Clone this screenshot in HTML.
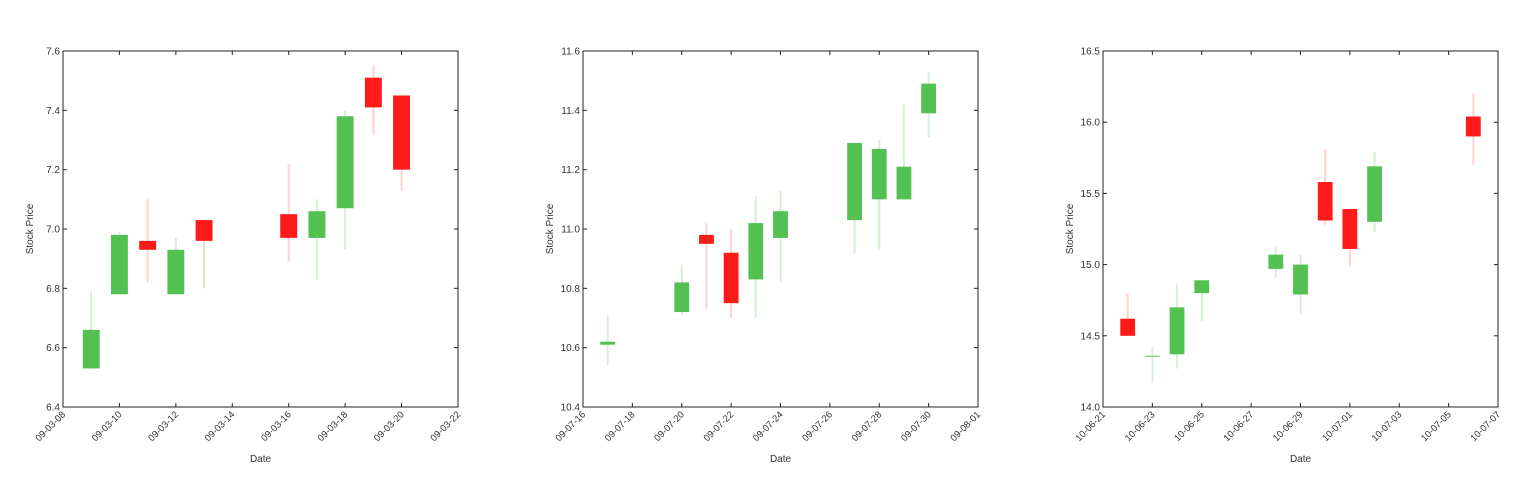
<!DOCTYPE html>
<html><head><meta charset="utf-8"><style>
html,body{margin:0;padding:0;background:#fff;width:1536px;height:488px;overflow:hidden}
svg text{font-family:"Liberation Sans",sans-serif;fill:#333}
</style></head><body>
<svg id="chart" width="1536" height="488" xmlns="http://www.w3.org/2000/svg"></svg>
<script>
// Panel 1 data (2009-03)
const p1Days = [9,10,11,12,13,16,17,18,19,20];
const p1Open = [6.53,6.78,6.96,6.78,7.03,7.05,6.97,7.07,7.51,7.45];
const p1Close = [6.66,6.98,6.93,6.93,6.96,6.97,7.06,7.38,7.41,7.20];
const p1High = [6.79,6.99,7.10,6.97,7.03,7.22,7.10,7.40,7.55,7.45];
const p1Low = [6.53,6.78,6.82,6.78,6.80,6.89,6.83,6.93,7.32,7.13];
const p1XTicks = ["09-03-08","09-03-10","09-03-12","09-03-14","09-03-16","09-03-18","09-03-20","09-03-22"];
const p1YTicks = ["6.4","6.6","6.8","7.0","7.2","7.4","7.6"];
// Panel 2 data (2009-07), day offset from 07-16
const p2Days = [1,4,5,6,7,8,11,12,13,14];
const p2Open = [10.61,10.72,10.98,10.92,10.83,10.97,11.03,11.10,11.10,11.39];
const p2Close = [10.62,10.82,10.95,10.75,11.02,11.06,11.29,11.27,11.21,11.49];
const p2High = [10.71,10.88,11.02,11.00,11.11,11.13,11.29,11.30,11.42,11.53];
const p2Low = [10.54,10.71,10.73,10.70,10.70,10.82,10.92,10.93,11.10,11.31];
const p2XTicks = ["09-07-16","09-07-18","09-07-20","09-07-22","09-07-24","09-07-26","09-07-28","09-07-30","09-08-01"];
const p2YTicks = ["10.4","10.6","10.8","11.0","11.2","11.4","11.6"];
// Panel 3 data (2010-06/07), day offset from 06-21
const p3Days = [1,2,3,4,7,8,9,10,11,15];
const p3Open = [14.62,14.36,14.37,14.80,14.97,14.79,15.58,15.39,15.30,16.04];
const p3Close = [14.50,14.36,14.70,14.89,15.07,15.00,15.31,15.11,15.69,15.90];
const p3High = [14.80,14.42,14.86,14.89,15.13,15.07,15.81,15.39,15.79,16.20];
const p3Low = [14.50,14.17,14.27,14.60,14.91,14.65,15.28,14.99,15.23,15.70];
const p3XTicks = ["10-06-21","10-06-23","10-06-25","10-06-27","10-06-29","10-07-01","10-07-03","10-07-05","10-07-07"];
const p3YTicks = ["14.0","14.5","15.0","15.5","16.0","16.5"];

const NS="http://www.w3.org/2000/svg";
const svg=document.getElementById('chart');
function mk(tag,attrs,parent){const e=document.createElementNS(NS,tag);for(const k in attrs)e.setAttribute(k,attrs[k]);(parent||svg).appendChild(e);return e;}

function panel(idx,x0,days,op,cl,hi,lo,xt,yt,dayStart,daySpan){
  const L=x0,R=x0+395,T=51,B=407;
  const ymin=parseFloat(yt[0]),ymax=parseFloat(yt[yt.length-1]);
  const xs=d=>L+(d-dayStart)/daySpan*(R-L);
  const ys=v=>B-(v-ymin)/(ymax-ymin)*(B-T);
  const g=mk('g',{});
  
  
  const frame=mk('rect',{x:L,y:T,width:R-L,height:B-T,fill:'#fff',stroke:'#222','stroke-width':1},g);
  
  
  // y ticks
  yt.forEach(t=>{const y=ys(parseFloat(t));
    mk('line',{x1:L,x2:L+4,y1:y,y2:y,stroke:'#222'},g);
    mk('line',{x1:R-4,x2:R,y1:y,y2:y,stroke:'#222'},g);
    const tx=mk('text',{x:L-3,y:y+3.5,'font-size':10,'text-anchor':'end'},g);
    tx.textContent=t;
    
    
  });
  xt.forEach((t,i)=>{const x=xs(dayStart+i*2);
    mk('line',{x1:x,x2:x,y1:B,y2:B-4,stroke:'#222'},g);
    mk('line',{x1:x,x2:x,y1:T,y2:T+4,stroke:'#222'},g);
    const tx=mk('text',{x:x+3,y:B+8,'font-size':9.5,'text-anchor':'end',transform:`rotate(-45 ${x+3} ${B+8})`},g);
    tx.textContent=t;
    
    
  });
  const w=(R-L)/daySpan*0.6;
  days.forEach((d,i)=>{
    const up=cl[i]>=op[i];
    const col=up?'#52c152':'#ff1a1a', wc=up?'#d6f0d6':'#ffd2d2';
    const x=xs(d);
    const wick=mk('line',{x1:x,x2:x,y1:ys(hi[i]),y2:ys(lo[i]),stroke:wc,'stroke-width':2},g);
    
    
    const top=ys(Math.max(op[i],cl[i])),bot=ys(Math.min(op[i],cl[i]));
    const body=mk('rect',{x:x-w/2,y:top,width:w,height:Math.max(bot-top,1),fill:col},g);
    
    
  });
  const xl=mk('text',{x:(L+R)/2,y:462,'font-size':10,'text-anchor':'middle'},g);
  xl.textContent='Date';
  
  
  const yx=L-30,yy=(T+B)/2;
  const yl=mk('text',{x:yx,y:yy,'font-size':10,'text-anchor':'middle',transform:`rotate(-90 ${yx} ${yy})`},g);
  yl.textContent='Stock Price';
  
  
}
panel(1,63,p1Days,p1Open,p1Close,p1High,p1Low,p1XTicks,p1YTicks,8,14);
panel(2,583,p2Days,p2Open,p2Close,p2High,p2Low,p2XTicks,p2YTicks,0,16);
panel(3,1103,p3Days,p3Open,p3Close,p3High,p3Low,p3XTicks,p3YTicks,0,16);
</script>
</body></html>
